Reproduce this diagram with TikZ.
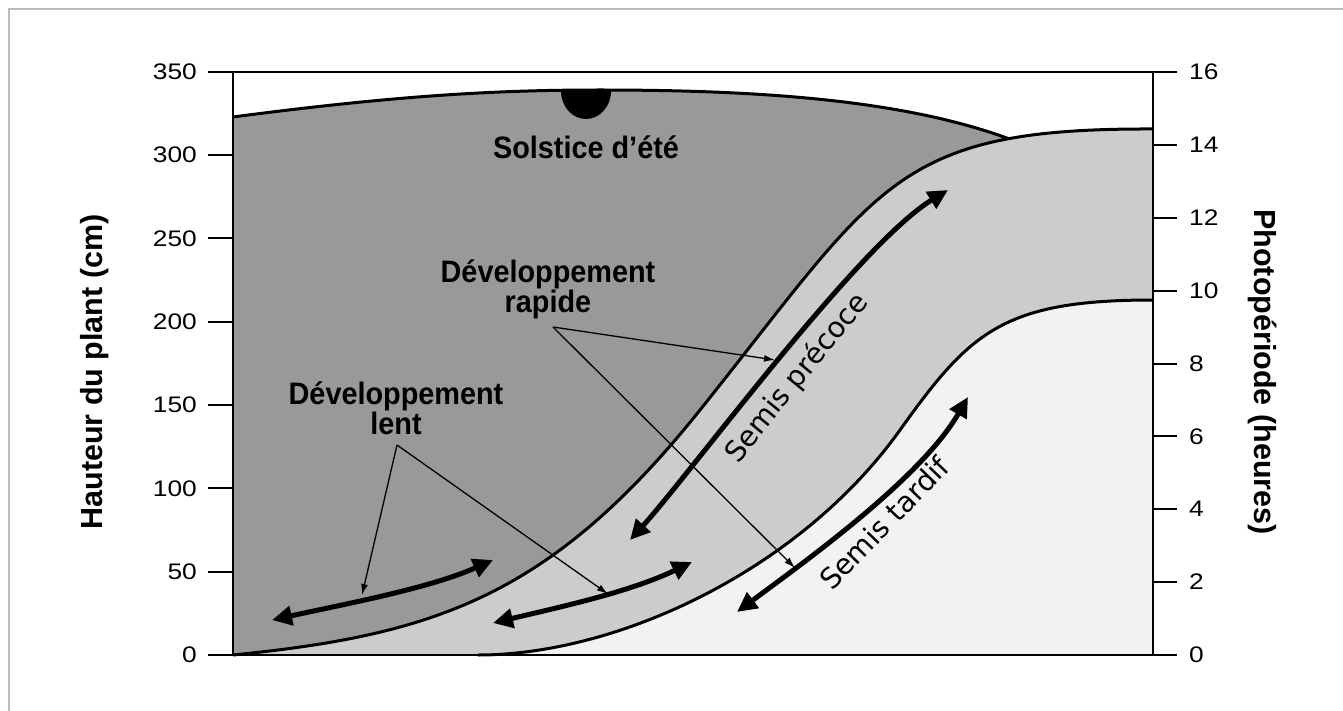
\documentclass[tikz,border=0pt]{standalone}
\usepackage{fontspec}
\setmainfont{Liberation Sans}
\newfontfamily\condfont{Liberation Sans}[FakeStretch=0.93]
\newfontfamily\tickfont{Liberation Sans}[FakeStretch=1.17]
\newfontfamily\semisfont{DejaVu Sans}
\usetikzlibrary{arrows.meta}
\definecolor{darkfill}{HTML}{999999}
\definecolor{midfill}{HTML}{CCCCCC}
\definecolor{lightfill}{HTML}{F2F2F2}
\definecolor{framegray}{HTML}{BBBBBB}
\begin{document}
\begin{tikzpicture}[x=1pt,y=-1pt,
  axisline/.style={line width=2pt,black},
  curveline/.style={line width=3pt,black},
  bigarrow/.style={line width=5pt,{Triangle[length=20pt,width=19pt]}-{Triangle[length=20pt,width=19pt]}},
  pointer/.style={line width=1.3pt,-{Latex[length=11pt,width=7pt]}},
  ticklab/.style={font=\tickfont\fontsize{22.5}{22.5}\selectfont,inner sep=0pt},
  devlab/.style={font=\condfont\bfseries\fontsize{31}{28}\selectfont,align=center,inner sep=0pt},
  semislab/.style={font=\semisfont\fontsize{28.5}{28.5}\selectfont,inner sep=0pt},
  axtitle/.style={font=\bfseries\fontsize{30.5}{30.5}\selectfont,inner sep=0pt}
]
\useasboundingbox (0,0) rectangle (1343,711);
\fill[white] (0,0) rectangle (1343,711);
\draw[framegray,line width=2pt] (9,711) -- (9,9) -- (1343,9);

% light gray region under the early sowing curve
\fill[midfill] (233,655) .. controls (433,635) and (550,597.5) .. (700,410)
  .. controls (880,185) and (893,128) .. (1153,129) -- (1153,655) -- cycle;
% lightest region under the late sowing curve
\fill[lightfill] (478,655) .. controls (618,655) and (800,570) .. (900,430)
  .. controls (970,332) and (1003,300) .. (1153,300) -- (1153,655) -- cycle;

% dark region between photoperiod curve and early curve
\begin{scope}
  \clip (233,60) -- (233,655) .. controls (433,635) and (550,597.5) .. (700,410)
    .. controls (880,185) and (893,128) .. (1153,129) -- (1153,60) -- cycle;
  \fill[darkfill] (233,117) .. controls (400,95) and (500,90) .. (600,90)
    .. controls (760,90) and (900,100) .. (1004,137) -- (1040,150) -- (1153,655) -- (233,655) -- cycle;
  \fill[black] (561,91) arc[start angle=180,end angle=0,x radius=25,y radius=28];
  \draw[curveline] (233,117) .. controls (400,95) and (500,90) .. (600,90)
    .. controls (760,90) and (900,100) .. (1004,137) -- (1040,150);
\end{scope}

% curves
\draw[curveline] (233,655) .. controls (433,635) and (550,597.5) .. (700,410)
  .. controls (880,185) and (893,128) .. (1153,129);
\draw[curveline] (478,655) .. controls (618,655) and (800,570) .. (900,430)
  .. controls (970,332) and (1003,300) .. (1153,300);

% axes
\draw[axisline] (233,72) -- (233,655);
\draw[axisline] (1153,72) -- (1153,655);
\draw[axisline] (208,72) -- (1177,72);
\draw[axisline] (208,655) -- (1177,655);
\foreach \v [count=\i from 0] in {0,50,100,150,200,250,300,350}{
  \draw[axisline] (208,655-83.333*\i) -- (233,655-83.333*\i);
  \node[ticklab,anchor=east] (yl\i) at (197,655-83.333*\i) {\v};
}
\foreach \v [count=\i from 0] in {0,2,4,6,8,10,12,14,16}{
  \draw[axisline] (1153,655-72.875*\i) -- (1177,655-72.875*\i);
  \node[ticklab,anchor=west] (yr\i) at (1189,655-72.875*\i) {\v};
}

% axis titles
\node[axtitle,rotate=90] (ytitle) at (95,372) {Hauteur du plant (cm)};
\node[axtitle,rotate=-90] (y2title) at (1263,372) {Photopériode (heures)};

% labels
\node[devlab] (solstice) at (586,147) {Solstice d’été};
\node[devlab] (rapide) at (548,289) {Développement\\rapide};
\node[devlab] (lent) at (396,408) {Développement\\lent};
\node[semislab,rotate=51] (precoce) at (797,378) {Semis précoce};
\node[semislab,rotate=46] (tardif) at (884,523) {Semis tardif};

% thick double arrows
\coordinate (a1s) at (272,620); \coordinate (a1e) at (493,560);
\coordinate (a2s) at (493,623); \coordinate (a2e) at (692,562);
\coordinate (a3s) at (630,540); \coordinate (a3e) at (948,190);
\coordinate (a4s) at (737,612); \coordinate (a4e) at (968,397);
\draw[bigarrow] (a1s) .. controls (350,603) and (430,588) .. (a1e);
\draw[bigarrow] (a2s) .. controls (560,607) and (630,592) .. (a2e);
\draw[bigarrow] (a3s) .. controls (690,474) and (858,245) .. (a3e);
\draw[bigarrow] (a4s) .. controls (800,565) and (920,480) .. (a4e);

% pointers
\coordinate (lentApex) at (397,445);
\coordinate (lentTipA) at (362,595);
\coordinate (lentTipB) at (608,594);
\coordinate (rapApex) at (553,327);
\coordinate (rapTipA) at (775,360);
\coordinate (rapTipB) at (795,568);
\draw[pointer] (lentApex) -- (lentTipA);
\draw[pointer] (lentApex) -- (lentTipB);
\draw[pointer] (rapApex) -- (rapTipA);
\draw[pointer] (rapApex) -- (rapTipB);
\end{tikzpicture}
\end{document}
